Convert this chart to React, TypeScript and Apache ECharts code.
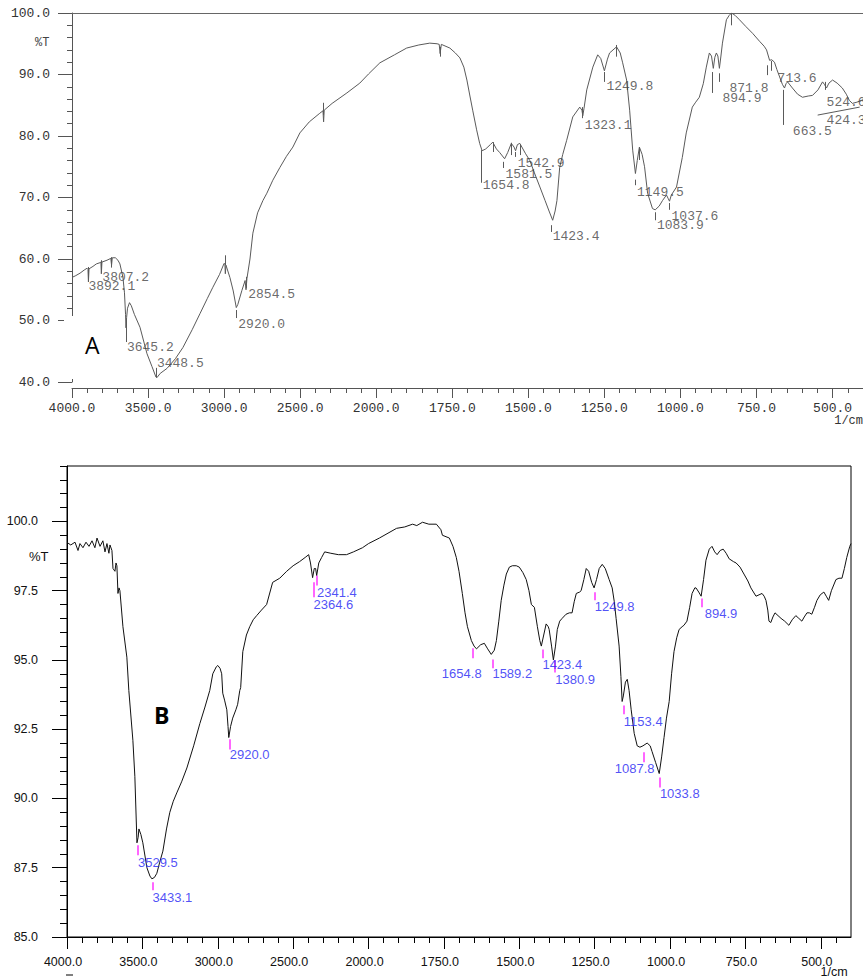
import React, { useEffect, useRef } from 'react';
import * as echarts from 'echarts';

// ---------- Data ----------
const xTickLabels = ['4000.0', '3500.0', '3000.0', '2500.0', '2000.0', '1750.0', '1500.0', '1250.0', '1000.0', '750.0', '500.0'];
const yTicksB = [85, 87.5, 90, 92.5, 95, 97.5, 100];

const wavenumbersA = [4000, 3975, 3947, 3920, 3901, 3895, 3892, 3888, 3862, 3840, 3816, 3810, 3807, 3803, 3770, 3745, 3740, 3735, 3715, 3698, 3685, 3665, 3655, 3648, 3645, 3641, 3635, 3622, 3610, 3590, 3553, 3507, 3474, 3448, 3442, 3420, 3376, 3320, 3271, 3210, 3159, 3110, 3074, 3030, 3000, 2995, 2992, 2988, 2962, 2940, 2920, 2910, 2883, 2862, 2856, 2850, 2830, 2811, 2780, 2745, 2719, 2680, 2633, 2590, 2548, 2502, 2440, 2371, 2350, 2346, 2342, 2290, 2193, 2108, 2050, 1988, 1940, 1900, 1860, 1824, 1800, 1793, 1790, 1786, 1758, 1740, 1725, 1712, 1702, 1692, 1683, 1670, 1660, 1652, 1640, 1625, 1617, 1605, 1594, 1578, 1568, 1556, 1547, 1542, 1536, 1528, 1510, 1495, 1480, 1462, 1445, 1432, 1420, 1412, 1406, 1397, 1387, 1374, 1354, 1331, 1324, 1321, 1317, 1308, 1288, 1272, 1262, 1250, 1240, 1233, 1210, 1198, 1190, 1177, 1167, 1157, 1148, 1142, 1135, 1126, 1118, 1108, 1092, 1083, 1070, 1059, 1046, 1040, 1036, 1030, 1013, 994, 981, 961, 950, 938, 925, 915, 905, 898, 892, 887, 882, 877, 872, 867, 862, 849, 840, 832, 820, 806, 785, 763, 740, 725, 717, 707, 700, 691, 683, 674, 665, 658, 653, 648, 640, 632, 615, 599, 580, 566, 548, 533, 527, 520, 512, 500, 485, 468, 455, 445, 435, 420, 405, 400];
const transmittanceA = [57.0, 57.3, 57.7, 58.2, 58.5, 58.3, 56.3, 58.4, 58.8, 59.2, 59.4, 59.5, 57.6, 59.5, 59.8, 60.1, 59.0, 60.2, 60.2, 59.8, 59.2, 57.0, 54.5, 51.0, 48.8, 50.5, 52.0, 52.9, 52.4, 51.0, 48.9, 44.6, 42.5, 40.8, 40.7, 41.4, 42.2, 43.8, 45.6, 48.5, 51.1, 53.6, 55.4, 57.5, 59.3, 59.2, 57.6, 59.0, 57.0, 54.8, 52.1, 52.6, 54.9, 56.5, 55.0, 56.8, 60.0, 64.2, 67.5, 69.5, 70.7, 72.8, 74.9, 76.7, 78.2, 80.5, 82.3, 83.7, 84.1, 82.3, 84.2, 85.3, 87.0, 88.6, 90.1, 91.9, 93.2, 94.3, 94.8, 95.1, 95.0, 94.9, 93.4, 94.9, 94.3, 93.5, 92.7, 91.2, 89.1, 86.5, 84.2, 81.0, 78.8, 77.6, 77.9, 78.6, 79.0, 77.9, 77.3, 76.3, 77.3, 78.8, 78.2, 77.6, 78.6, 78.8, 77.2, 76.0, 74.0, 71.7, 69.5, 67.8, 66.3, 67.8, 69.5, 74.9, 77.0, 79.3, 83.1, 84.7, 84.2, 83.3, 84.5, 87.5, 91.2, 93.2, 92.6, 90.6, 92.5, 93.5, 94.5, 93.5, 91.9, 89.1, 84.2, 77.7, 73.9, 76.0, 78.2, 77.0, 75.0, 70.7, 68.2, 68.0, 68.6, 69.5, 70.4, 69.8, 69.4, 70.4, 71.7, 76.5, 80.5, 84.7, 85.5, 86.3, 88.5, 91.2, 93.5, 93.0, 91.0, 92.8, 93.5, 93.0, 91.0, 93.0, 95.1, 98.9, 99.6, 100, 99.6, 98.9, 97.8, 96.7, 95.4, 94.6, 94.0, 92.3, 92.4, 92.0, 90.8, 89.6, 88.4, 87.8, 88.5, 88.8, 88.3, 87.8, 86.8, 86.3, 86.5, 86.6, 87.5, 88.8, 88.4, 87.8, 88.6, 89.1, 88.6, 87.8, 86.8, 85.8, 85.3, 85.5, 85.8, 85.9];

const wavenumbersB = [4000, 3975, 3947, 3927, 3914, 3894, 3874, 3854, 3834, 3815, 3801, 3781, 3762, 3748, 3735, 3722, 3715, 3702, 3695, 3682, 3675, 3669, 3662, 3655, 3649, 3629, 3603, 3590, 3563, 3550, 3536, 3528, 3523, 3510, 3497, 3470, 3450, 3437, 3420, 3404, 3385, 3364, 3340, 3318, 3295, 3272, 3240, 3205, 3160, 3119, 3085, 3053, 3033, 3010, 3000, 2985, 2974, 2967, 2955, 2940, 2932, 2927, 2915, 2901, 2880, 2868, 2854, 2848, 2834, 2810, 2788, 2765, 2742, 2710, 2676, 2636, 2589, 2543, 2500, 2457, 2420, 2397, 2385, 2371, 2360, 2351, 2344, 2330, 2311, 2291, 2250, 2200, 2146, 2100, 2040, 2000, 1964, 1907, 1880, 1854, 1840, 1821, 1800, 1775, 1760, 1755, 1732, 1720, 1709, 1700, 1689, 1680, 1672, 1659, 1650, 1642, 1628, 1616, 1605, 1593, 1583, 1576, 1568, 1560, 1551, 1543, 1533, 1523, 1510, 1500, 1488, 1477, 1468, 1460, 1450, 1440, 1432, 1427, 1419, 1411, 1404, 1401, 1393, 1387, 1380, 1374, 1366, 1358, 1345, 1334, 1325, 1318, 1311, 1300, 1295, 1286, 1278, 1270, 1260, 1252, 1244, 1235, 1225, 1215, 1202, 1192, 1185, 1179, 1169, 1163, 1159, 1155, 1148, 1142, 1136, 1129, 1119, 1109, 1100, 1090, 1076, 1066, 1060, 1048, 1036, 1028, 1020, 1012, 1003, 995, 987, 978, 970, 960, 954, 944, 935, 927, 918, 914, 905, 897, 889, 881, 870, 861, 852, 844, 834, 824, 814, 804, 790, 781, 768, 755, 742, 732, 715, 705, 695, 688, 682, 676, 672, 666, 659, 652, 642, 632, 620, 606, 595, 583, 573, 563, 555, 546, 538, 530, 521, 513, 502, 490, 482, 474, 465, 450, 440, 430, 422, 414, 404, 400];
const transmittanceB = [99.24, 99.15, 99.25, 98.95, 99.2, 99.05, 99.25, 99.1, 99.3, 99.05, 99.4, 99.1, 99.3, 98.9, 99.2, 98.85, 99.15, 98.95, 98.3, 98.2, 98.5, 98.4, 97.4, 97.6, 97.5, 96.2, 95.1, 93.9, 92.1, 90.8, 88.4, 88.6, 88.9, 88.7, 88.4, 87.5, 87.2, 87.1, 87.15, 87.3, 87.7, 88.1, 88.9, 89.5, 89.9, 90.2, 90.6, 91.1, 91.9, 92.7, 93.3, 93.9, 94.5, 94.75, 94.8, 94.7, 94.5, 93.8, 93.55, 93.2, 92.6, 92.2, 92.6, 92.9, 93.2, 93.4, 93.9, 94.0, 95.3, 95.9, 96.2, 96.45, 96.6, 96.8, 97.0, 97.8, 97.95, 98.2, 98.4, 98.55, 98.7, 98.8, 98.5, 97.97, 98.3, 98.3, 98.05, 98.5, 98.7, 98.9, 98.85, 98.8, 98.8, 98.9, 99.05, 99.2, 99.4, 99.75, 99.8, 99.9, 99.85, 99.97, 99.9, 99.9, 99.7, 99.5, 99.4, 99.1, 98.7, 98.2, 97.4, 96.7, 96.2, 95.7, 95.5, 95.4, 95.55, 95.6, 95.4, 95.2, 95.35, 95.7, 96.4, 97.15, 97.7, 98.1, 98.35, 98.4, 98.4, 98.35, 98.15, 97.9, 97.5, 97.0, 96.9, 96.2, 95.7, 95.5, 95.9, 96.3, 96.2, 96.1, 95.5, 95.0, 95.5, 96.1, 96.4, 96.5, 96.65, 96.7, 96.7, 97.1, 97.4, 97.45, 97.5, 97.9, 98.3, 98.2, 97.8, 97.6, 97.9, 98.3, 98.45, 98.3, 97.9, 97.6, 97.1, 96.5, 95.5, 94.4, 93.5, 93.7, 94.2, 94.3, 93.9, 93.2, 92.35, 91.9, 91.85, 91.9, 92.0, 91.9, 91.7, 91.3, 90.9, 91.5, 92.2, 92.9, 93.5, 94.5, 95.3, 95.8, 96.1, 96.2, 96.25, 96.4, 96.9, 97.4, 97.6, 97.6, 97.45, 97.3, 97.9, 98.6, 99.0, 99.1, 98.9, 98.8, 98.95, 99.0, 98.85, 98.65, 98.55, 98.5, 98.35, 98.1, 97.85, 97.6, 97.3, 97.35, 97.4, 97.3, 97.15, 96.8, 96.4, 96.35, 96.55, 96.7, 96.6, 96.5, 96.4, 96.25, 96.45, 96.6, 96.5, 96.4, 96.55, 96.7, 96.7, 96.65, 96.9, 97.15, 97.35, 97.45, 97.3, 97.15, 97.5, 97.9, 97.95, 97.95, 98.3, 98.7, 99.1, 99.2];

const peaksA = [3892.1, 3807.2, 3645.2, 3448.5, 2920.0, 2854.5, 1654.8, 1581.5, 1542.9, 1423.4, 1323.1, 1249.8, 1149.5, 1083.9, 1037.6, 894.9, 871.8, 713.6, 663.5, 524.6, 424.3];
const peakLabelsA = ['3892.1', '3807.2', '3645.2', '3448.5', '2920.0', '2854.5', '1654.8', '1581.5', '1542.9', '1423.4', '1323.1', '1249.8', '1149.5', '1083.9', '1037.6', '894.9', '871.8', '713.6', '663.5', '524.6', '424.3'];
// unlabeled peak-top markers of spectrum A: [wavenumber, from %T, to %T]
const minorMarksA = [[3740, 60.3, 58.6], [2992, 60.6, 59.0], [2346, 85.4, 83.4], [1790, 94.5, 92.9], [1617, 79.0, 77.4], [1556, 78.9, 76.9], [1528, 78.6, 76.9], [1210, 94.8, 92.9], [1135, 78.2, 76.1], [832, 100, 98.0], [700, 92.2, 90.6]];
const baselineA = [[549, 83.4], [411, 84.7]];

const peaksB = [3529.5, 3433.1, 2920.0, 2364.6, 2341.4, 1654.8, 1589.2, 1423.4, 1380.9, 1249.8, 1153.4, 1087.8, 1033.8, 894.9];
const peakLabelsB = ['3529.5', '3433.1', '2920.0', '2364.6', '2341.4', '1654.8', '1589.2', '1423.4', '1380.9', '1249.8', '1153.4', '1087.8', '1033.8', '894.9'];

// ---------- Layout (marker extents, label placement) ----------
// [tick top %T, tick bottom %T, label %T, label dx px]
const layoutA: number[][] = [
  [58.7, 56.3, 55.45, 0], [59.8, 57.9, 57.07, 1], [50.1, 46.5, 45.69, 1], [42.3, 40.8, 42.93, 1],
  [51.7, 50.4, 49.43, 2], [57.1, 55.3, 54.15, 2], [77.7, 72.4, 71.87, 1.5], [75.8, 74.8, 73.66, 2],
  [77.4, 76.6, 75.45, 2.5], [65.5, 64.4, 63.58, 1], [84.7, 82.9, 81.63, 2.5], [90.4, 88.8, 87.97, 2],
  [72.9, 72.0, 70.89, 2], [67.6, 66.3, 65.37, 2], [69.1, 68.0, 66.99, 2.5], [90.4, 87.0, 86.02, 10],
  [90.2, 88.8, 87.8, 10], [91.5, 89.9, 89.27, 10], [87.5, 81.8, 80.81, 10], [88.8, 87.5, 85.37, 1.5],
  [0, 0, 82.44, -29],
];
// [tick top, tick bottom, label %T, dx, align]
const layoutB: any[][] = [
  [88.31, 87.95, 87.7, 0, 'left'], [86.98, 86.69, 86.44, 0, 'left'], [92.14, 91.77, 91.59, 0, 'left'],
  [97.8, 97.26, 97.01, 0, 'left'], [98.05, 97.69, 97.44, 0, 'left'], [95.42, 95.06, 94.52, 9, 'right'],
  [95.02, 94.7, 94.52, 0, 'left'], [95.38, 95.06, 94.84, 0, 'left'], [94.99, 94.55, 94.3, 0, 'left'],
  [97.44, 97.15, 96.93, 0, 'left'], [93.36, 93.04, 92.79, 0, 'left'], [91.67, 91.31, 91.09, 11, 'right'],
  [90.76, 90.4, 90.19, 0, 'left'], [97.22, 96.9, 96.68, 3, 'left'],
];

// Wavenumber axis: 4000-2000 at half the scale of 2000-400
const toP = (w: number) => (w >= 2000 ? (4000 - w) / 500 : 4 + (2000 - w) / 250);
const majorIdx = [0, 1, 2, 3, 4, 5, 6, 7, 8, 9, 10];

const mono = '"Liberation Mono", "DejaVu Sans Mono", monospace';
const sans = '"Liberation Sans", Arial, sans-serif';
const blue = '#2424f4';

function buildOption() {
  const lineA = wavenumbersA.map((w, i) => [toP(w), transmittanceA[i]]);
  const lineB = wavenumbersB.map((w, i) => [toP(w), transmittanceB[i]]);

  const ticksA: any[] = [];
  peaksA.forEach((w, i) => {
    const [t1, t2] = layoutA[i];
    if (t1 !== t2) ticksA.push({ coords: [[toP(w), t1], [toP(w), t2]] });
  });
  minorMarksA.forEach(([w, t1, t2]) => ticksA.push({ coords: [[toP(w), t1], [toP(w), t2]] }));
  ticksA.push({ coords: baselineA.map(([w, t]) => [toP(w), t]) });

  const labelsA = peaksA.map((w, i) => ({
    value: [toP(w), layoutA[i][2]],
    label: { formatter: peakLabelsA[i], offset: [layoutA[i][3], 0], align: 'left' },
  }));

  const ticksB = peaksB.map((w, i) => ({ coords: [[toP(w), layoutB[i][0]], [toP(w), layoutB[i][1]]] }));
  const labelsB = peaksB.map((w, i) => ({
    value: [toP(w), layoutB[i][2]],
    label: { formatter: peakLabelsB[i], offset: [layoutB[i][3], 0], align: layoutB[i][4] },
  }));

  const xFmt = (v: number) => xTickLabels[Math.round(v)] ?? '';

  return {
    animation: false,
    backgroundColor: '#fff',
    grid: [
      { left: 72, top: 13, width: 791, height: 369, outerBoundsMode: 'none' },
      { left: 67, top: 466, width: 784, height: 471, show: true, borderColor: '#000', borderWidth: 1, backgroundColor: 'transparent', outerBoundsMode: 'none' },
    ],
    xAxis: [
      {
        type: 'value', gridIndex: 0, min: 0, max: 10.4, interval: 1, position: 'bottom', offset: 6,
        axisLine: { show: true, onZero: false, lineStyle: { color: '#555', width: 1 } },
        axisTick: { show: true, length: 10, customValues: majorIdx, lineStyle: { color: '#555' } },
        minorTick: { show: true, splitNumber: 5, length: 5, lineStyle: { color: '#555' } },
        axisLabel: { customValues: majorIdx, formatter: xFmt, fontFamily: mono, fontSize: 13, color: '#333', margin: 14 },
        splitLine: { show: false }, minorSplitLine: { show: false },
      },
      {
        type: 'value', gridIndex: 0, min: 0, max: 10.4, interval: 1, position: 'top',
        axisLine: { show: true, onZero: false, lineStyle: { color: '#666', width: 1 } },
        axisTick: { show: false }, axisLabel: { show: false }, splitLine: { show: false },
      },
      {
        type: 'value', gridIndex: 1, min: 0, max: 10.4, interval: 1, position: 'bottom',
        axisLine: { show: true, onZero: false, lineStyle: { color: '#000', width: 1 } },
        axisTick: { show: true, length: 12, customValues: majorIdx, lineStyle: { color: '#000' } },
        minorTick: { show: true, splitNumber: 5, length: 6, lineStyle: { color: '#000' } },
        axisLabel: { customValues: majorIdx, formatter: xFmt, fontFamily: sans, fontSize: 12.5, color: '#111', margin: 18, padding: [0, 8, 0, 0] },
        splitLine: { show: false }, minorSplitLine: { show: false },
      },
    ],
    yAxis: [
      {
        type: 'value', gridIndex: 0, min: 40, max: 100, interval: 10, position: 'left',
        axisLine: { show: true, onZero: false, lineStyle: { color: '#555', width: 1 } },
        axisTick: { show: true, length: 14, lineStyle: { color: '#555' } },
        minorTick: { show: true, splitNumber: 5, length: 5, lineStyle: { color: '#555' } },
        axisLabel: { formatter: (v: number) => v.toFixed(1), fontFamily: mono, fontSize: 13, color: '#333', margin: 22 },
        splitLine: { show: false }, minorSplitLine: { show: false },
      },
      {
        type: 'value', gridIndex: 0, min: 40, max: 100, position: 'right',
        axisLine: { show: true, onZero: false, lineStyle: { color: '#c8c8c8', width: 1, type: 'dashed' } },
        axisTick: { show: false }, axisLabel: { show: false }, splitLine: { show: false },
      },
      {
        type: 'value', gridIndex: 1, min: 85, max: 102, interval: 2.5, position: 'left',
        axisLine: { show: true, onZero: false, lineStyle: { color: '#000', width: 1 } },
        axisTick: { show: true, length: 15, customValues: yTicksB, lineStyle: { color: '#000' } },
        axisLabel: { customValues: yTicksB, formatter: (v: number) => v.toFixed(1), fontFamily: sans, fontSize: 12.5, color: '#111', margin: 29 },
        splitLine: { show: false },
      },
      {
        type: 'value', gridIndex: 1, min: 85, max: 102, interval: 0.5, position: 'left',
        axisLine: { show: false, onZero: false },
        axisTick: { show: true, length: 7, lineStyle: { color: '#000' } },
        axisLabel: { show: false }, splitLine: { show: false },
      },
    ],
    series: [
      {
        type: 'line', xAxisIndex: 0, yAxisIndex: 0, data: lineA, symbol: 'none', silent: true, z: 3,
        lineStyle: { color: '#5a5a5a', width: 1 },
      },
      {
        type: 'lines', coordinateSystem: 'cartesian2d', xAxisIndex: 0, yAxisIndex: 0, polyline: false, silent: true, z: 3,
        data: ticksA, lineStyle: { color: '#5a5a5a', width: 1, opacity: 1 },
      },
      {
        type: 'scatter', xAxisIndex: 0, yAxisIndex: 0, data: labelsA, symbolSize: 1, silent: true, z: 4,
        itemStyle: { color: 'rgba(0,0,0,0)' },
        label: { show: true, position: 'inside', align: 'left', verticalAlign: 'middle', fontFamily: mono, fontSize: 13, color: '#444' },
      },
      {
        type: 'line', xAxisIndex: 2, yAxisIndex: 2, data: lineB, symbol: 'none', silent: true, z: 3,
        lineStyle: { color: '#111', width: 1 },
      },
      {
        type: 'lines', coordinateSystem: 'cartesian2d', xAxisIndex: 2, yAxisIndex: 2, polyline: false, silent: true, z: 3,
        data: ticksB, lineStyle: { color: '#ff33ff', width: 1.5, opacity: 1 },
      },
      {
        type: 'scatter', xAxisIndex: 2, yAxisIndex: 2, data: labelsB, symbolSize: 1, silent: true, z: 4,
        itemStyle: { color: 'rgba(0,0,0,0)' },
        label: { show: true, position: 'inside', align: 'left', verticalAlign: 'middle', fontFamily: sans, fontSize: 13, color: blue },
      },
    ],
    graphic: [
      { type: 'rect', z: 1, silent: true, shape: { x: 64, y: 316, width: 52, height: 63 }, style: { fill: '#fff' } },
      { type: 'text', z: 10, x: 85, y: 345, style: { text: 'A', fontFamily: '"Open Sans", sans-serif', fontSize: 23, fill: '#000', textAlign: 'left', textVerticalAlign: 'middle', verticalAlign: 'middle' } },
      { type: 'text', z: 10, x: 35, y: 43, style: { text: '%T', fontFamily: mono, fontSize: 12, fill: '#444', textAlign: 'left', textVerticalAlign: 'middle', verticalAlign: 'middle' } },
      { type: 'text', z: 10, x: 863, y: 421, style: { text: '1/cm', fontFamily: mono, fontSize: 12, fill: '#333', textAlign: 'right', textVerticalAlign: 'middle', verticalAlign: 'middle' } },
      { type: 'text', z: 10, x: 29, y: 556, style: { text: '%T', fontFamily: sans, fontSize: 13, fill: '#111', textAlign: 'left', textVerticalAlign: 'middle', verticalAlign: 'middle' } },
      { type: 'text', z: 10, x: 154, y: 715, style: { text: 'B', fontFamily: '"Open Sans", sans-serif', fontWeight: 'bold', fontSize: 23, fill: '#000', textAlign: 'left', textVerticalAlign: 'middle', verticalAlign: 'middle' } },
      { type: 'text', z: 10, x: 834, y: 972, style: { text: '1/cm', fontFamily: sans, fontSize: 12.5, fill: '#111', textAlign: 'center', textVerticalAlign: 'middle', verticalAlign: 'middle' } },
      { type: 'line', z: 10, silent: true, shape: { x1: 66, y1: 975, x2: 73, y2: 975 }, style: { stroke: '#000', lineWidth: 1 } },
    ],
  };
}

export default function App() {
  const ref = useRef<HTMLDivElement>(null);
  useEffect(() => {
    if (!ref.current) return;
    const chart = echarts.init(ref.current, null, { renderer: 'svg' });
    chart.setOption(buildOption() as any);
    return () => chart.dispose();
  }, []);
  return (
    <div
      ref={ref}
      style={{ position: 'absolute', left: 0, top: 0, width: 863, height: 979, background: '#fff' }}
    />
  );
}
